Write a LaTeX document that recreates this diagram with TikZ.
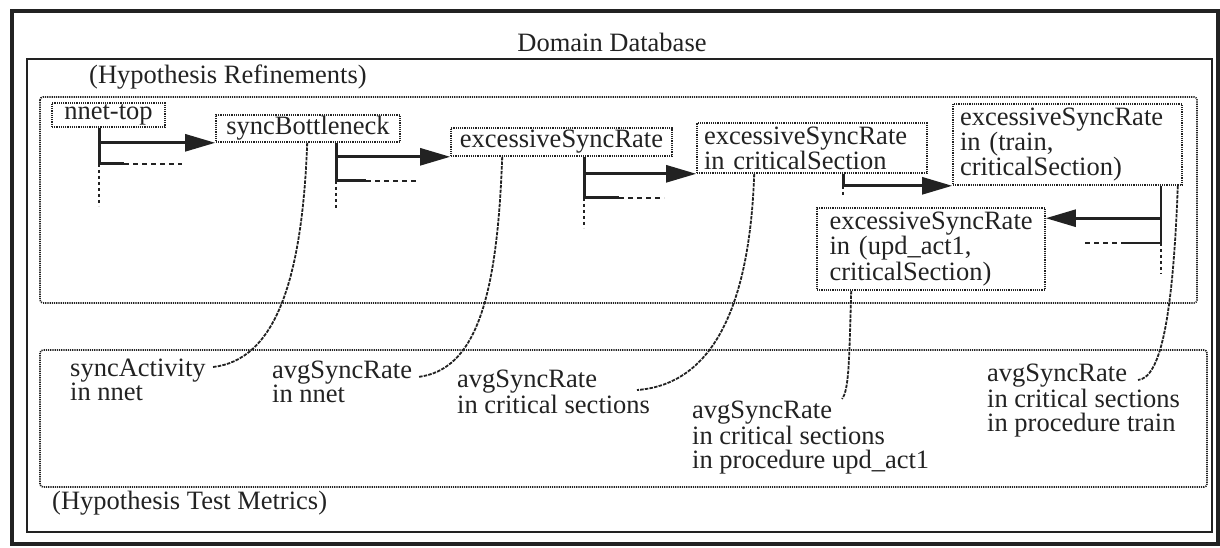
\documentclass[tikz,border=0pt]{standalone}
\usepackage{fontspec}
\setmainfont{Liberation Serif}
\usetikzlibrary{arrows.meta,calc}
\definecolor{ink}{RGB}{34,34,34}
\begin{document}
\begin{tikzpicture}[x=1pt,y=-1pt,
  txt/.style={font=\fontsize{26.5}{22}\selectfont, text=ink},
  box/.style={draw=ink, line width=1.6pt, dash pattern=on 1.2pt off 1pt,
    inner sep=0pt, txt},
  lab/.style={txt, font=\fontsize{26.5}{24}\selectfont, anchor=base west,
    align=left, inner sep=0pt},
  dotbox/.style={draw=ink, line width=1.6pt, dash pattern=on 1.2pt off 1pt},
  trunk/.style={draw=ink, line width=2.6pt},
  arrowline/.style={trunk, -{Triangle[length=30pt,width=17pt]}},
  dashline/.style={draw=ink, line width=2.4pt, dash pattern=on 5pt off 4pt},
  dotline/.style={draw=ink, line width=2.2pt, dash pattern=on 3pt off 3pt},
  curve/.style={draw=ink, line width=1.8pt, dash pattern=on 3.5pt off 1.2pt},
]
\useasboundingbox (0,0) rectangle (1220,548);

% frames
\draw[ink, line width=4pt] (12,11) rectangle (1218,544);
\draw[ink, line width=1.6pt] (27,59) rectangle (1212,532);
\draw[dotbox, rounded corners=3pt] (40,97) rectangle (1197,303);
\draw[dotbox, rounded corners=3pt] (40,350) rectangle (1207,487);

\node[txt] (title) at (612,42) {Domain Database};
\node[txt, anchor=west, inner sep=0pt] (refl) at (89,77) {(Hypothesis Refinements)};
\node[txt, anchor=west, inner sep=0pt] (testl) at (52,503) {(Hypothesis Test Metrics)};

% hypothesis nodes
\node[box, minimum width=113pt, minimum height=24pt] (nnet) at (108.5,115) {nnet-top};
\node[box, minimum width=184pt, minimum height=27pt] (sync) at (308,128.5) {syncBottleneck};
\node[box, minimum width=221pt, minimum height=28pt] (exc) at (561.5,142) {excessiveSyncRate};
\node[box, minimum width=230pt, minimum height=50pt, text width=216pt, align=left]
  (n4) at (812,148) {excessiveSyncRate\\in criticalSection};
\node[box, minimum width=229pt, minimum height=81pt, text width=215pt, align=left]
  (n5) at (1067.5,144.5) {excessiveSyncRate\\in (train,\\criticalSection)};
\node[box, minimum width=228pt, minimum height=82pt, text width=203pt, align=left]
  (n6) at (931,249) {excessiveSyncRate\\in (upd\_act1,\\criticalSection)};

% refinement trees
\coordinate (t1) at ($(nnet.south west)+(48,0)$);
\coordinate (b1) at ($(t1)+(0,36)$);
\draw[trunk] (t1) -- (b1);
\draw[arrowline] (t1) |- (sync.south west);
\draw[trunk] (b1) -- ++(25,0);
\draw[dashline] ($(b1)+(25,0)$) -- ++(58,0);
\draw[dotline] (b1) -- ++(0,42);

\coordinate (t2) at ($(sync.south west)+(121,0)$);
\coordinate (b2) at ($(t2)+(0,38)$);
\draw[trunk] (t2) -- (b2);
\draw[arrowline] (t2) |- (exc.south west);
\draw[trunk] (b2) -- ++(30,0);
\draw[dashline] ($(b2)+(30,0)$) -- ++(51,0);
\draw[dotline] (b2) -- ++(0,28);

\coordinate (t3) at ($(exc.south west)+(134,0)$);
\coordinate (b3) at ($(t3)+(0,41)$);
\draw[trunk] (t3) -- (b3);
\draw[arrowline] (t3) |- (n4.south west);
\draw[trunk] (b3) -- ++(35,0);
\draw[dashline] ($(b3)+(35,0)$) -- ++(45,0);
\draw[dotline] (b3) -- ++(0,30);

\coordinate (t4) at ($(n4.south west)+(147,0)$);
\draw[arrowline] (t4) |- (n5.south west);
\draw[dotline] (t4 |- n5.south) -- ++(0,11);

\coordinate (t5) at ($(n5.south east)+(-22,0)$);
\coordinate (b5) at ($(t5)+(0,57)$);
\draw[trunk] (t5) -- (b5);
\draw[arrowline] (t5) |- ($(n6.north east)+(0,11)$);
\draw[trunk] (b5) -- ++(-35,0);
\draw[dashline] ($(b5)+(-35,0)$) -- ++(-43,0);
\draw[dotline] (b5) -- ++(0,31);

% test metrics (placed by the baseline of their last line)
\node[lab] (la) at (70,400) {syncActivity\\in nnet};
\node[lab] (lb) at (272,402) {avgSyncRate\\in nnet};
\node[lab] (lc) at (457,413) {avgSyncRate\\in critical sections};
\node[lab] (ld) at (692,468) {avgSyncRate\\in critical sections\\in procedure upd\_act1};
\node[lab] (le) at (987,431) {avgSyncRate\\in critical sections\\in procedure train};

% links from hypotheses to their test metrics
\coordinate (ca) at ($(sync.south west)+(92,0)$);
\coordinate (ea) at ($(la.base west)+(143,-33)$);
\draw[curve] (ca) .. controls ($(ca)+(-5,138)$) and ($(ea)+(62,-7)$) .. (ea);

\coordinate (cb) at ($(exc.south west)+(52,0)$);
\coordinate (eb) at ($(lb.base west)+(146,-25)$);
\draw[curve] (cb) .. controls ($(cb)+(-5,144)$) and ($(eb)+(57,-7)$) .. (eb);

\coordinate (cc) at ($(n4.south west)+(58,0)$);
\coordinate (ec) at ($(lc.base west)+(180,-23)$);
\draw[curve] (cc) .. controls ($(cc)+(-5,147)$) and ($(ec)+(68,-5)$) .. (ec);

\coordinate (cd) at ($(n6.south west)+(35,0)$);
\coordinate (ed) at ($(ld.base west)+(150,-69)$);
\draw[curve] (cd) .. controls ($(cd)+(-2,70)$) and ($(ed)+(7,-9)$) .. (ed);

\coordinate (ce) at ($(n5.south east)+(-5,0)$);
\coordinate (ee) at ($(le.base west)+(151,-51)$);
\draw[curve] (ce) .. controls ($(ce)+(-5,135)$) and ($(ee)+(22,-2)$) .. (ee);
\end{tikzpicture}
\end{document}
